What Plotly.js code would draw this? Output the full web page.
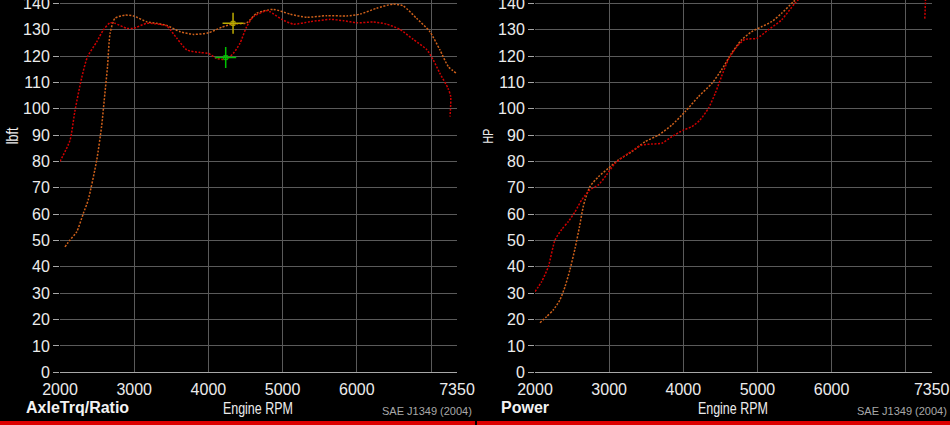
<!DOCTYPE html>
<html>
<head>
<meta charset="utf-8">
<script src="https://cdn.plot.ly/plotly-3.0.1.min.js"></script>
<style>
  html, body { margin: 0; padding: 0; background: #000; }
  #chart { width: 950px; height: 425px; }
</style>
</head>
<body>
<div id="chart"></div>
<script>
// ---- Data ----
const xTickVals = [2000, 3000, 4000, 5000, 6000, 7000, 7350];
const xTickText = ['2000', '3000', '4000', '5000', '6000', '', '7350'];
const yTickVals = [0, 10, 20, 30, 40, 50, 60, 70, 80, 90, 100, 110, 120, 130, 140];

// Axle torque / ratio (lbft) - red run
const trqRedRpm = [2000, 2135, 2200, 2290, 2370, 2495, 2585, 2675, 2740, 2900, 2990, 3170, 3350, 3440, 3575, 3710, 3890, 4000, 4110, 4230, 4335, 4425, 4515, 4605, 4785, 4830, 4990, 5145, 5370, 5640, 5820, 6000, 6220, 6400, 6580, 6760, 6940, 7030, 7120, 7230, 7265, 7256];
const trqRedVal = [80, 88, 99, 111.5, 119.7, 125.4, 129.9, 132.6, 132.4, 130.5, 130.5, 132.4, 132, 131.4, 126.7, 122.3, 121.3, 121, 119.1, 118.7, 121, 124.8, 131.1, 134.9, 137.2, 136.8, 133.9, 132.1, 133, 133.9, 133.4, 132.6, 132.9, 132.1, 130.1, 126.3, 122.5, 118.5, 113.4, 107.7, 104.6, 97];

// Axle torque / ratio (lbft) - orange run
const trqOrgRpm = [2067, 2135, 2225, 2315, 2380, 2495, 2560, 2605, 2640, 2675, 2740, 2875, 2990, 3170, 3300, 3440, 3620, 3800, 4000, 4180, 4320, 4515, 4650, 4875, 5100, 5325, 5595, 5865, 6045, 6265, 6490, 6625, 6805, 6985, 7120, 7235, 7345];
const trqOrgVal = [47.6, 50.2, 53.3, 60.3, 65.4, 80.5, 93.2, 105.8, 115.9, 128.6, 134.3, 135.5, 135.2, 133, 132.4, 131.6, 129.2, 128.2, 128.8, 130.9, 132.1, 132.6, 136.2, 137.7, 135.9, 134.7, 135.3, 135.2, 135.9, 138.1, 139.7, 139, 134.3, 129.2, 122.3, 115.9, 113.4];

// Power (HP) - red run
const hpRedRpm = [2000, 2090, 2180, 2270, 2360, 2450, 2540, 2630, 2740, 2855, 2965, 3080, 3260, 3440, 3575, 3710, 3845, 4000, 4115, 4225, 4340, 4430, 4515, 4605, 4720, 4830, 4990, 5145, 5325, 5505, 5640, 5820, 6000, 6400, 6760, 7030, 7230, 7265, 7256];
const hpRedVal = [30.6, 34.4, 40.1, 50.2, 54.2, 57.2, 60.9, 65.4, 69.2, 71.1, 74.9, 79.3, 83.1, 86.2, 86.6, 86.9, 89.4, 91.9, 93.2, 95.7, 100.2, 105.8, 112.2, 118.5, 123.5, 126.3, 126.7, 129.9, 133.7, 140, 143.8, 147.8, 151.5, 161, 162.5, 158.6, 148.3, 144.7, 134];

// Power (HP) - orange run
const hpOrgRpm = [2067, 2155, 2245, 2335, 2405, 2470, 2540, 2600, 2650, 2675, 2740, 2855, 2990, 3125, 3305, 3485, 3665, 3845, 4025, 4205, 4385, 4515, 4650, 4785, 4920, 5055, 5190, 5325, 5485, 5700, 6000, 6500, 7000, 7345];
const hpOrgVal = [18.8, 21.1, 23.6, 27.4, 32.5, 38.8, 47, 55.3, 62.8, 65.4, 70.4, 74.2, 77.4, 80.6, 83.7, 87.5, 90, 93.8, 98.9, 104.6, 109.6, 114.7, 121, 126.1, 129.2, 131.1, 133, 136.2, 140.6, 146, 155, 172.9, 172, 158.6];

// Cursor markers on the torque chart
const cursorYellowRpm = [4332];
const cursorYellowVal = [132.4];
const cursorGreenRpm = [4233];
const cursorGreenVal = [119.4];

// ---- Styles ----
const RED = '#d00000';
const ORANGE = '#cf601a';
const YELLOW = '#bcaa00';
const GREEN = '#00c000';
const W = 950, H = 425;
const dotLine = (c) => ({color: c, width: 1.5, dash: '2px,1.5px', shape: 'spline', smoothing: 0.6});

function cursor(xs, ys, c) {
  return [
    {x: xs, y: ys, type: 'scatter', mode: 'markers', xaxis: 'x', yaxis: 'y', hoverinfo: 'skip',
     marker: {symbol: 'cross-thin-open', size: 15, color: c, line: {color: c, width: 1.5}}},
    {x: xs, y: ys, type: 'scatter', mode: 'markers', xaxis: 'x', yaxis: 'y', hoverinfo: 'skip',
     marker: {symbol: 'square-open', size: 4, color: c, line: {color: c, width: 1}}}
  ];
}

const traces = [
  {x: trqOrgRpm, y: trqOrgVal, type: 'scatter', mode: 'lines', line: dotLine(ORANGE), xaxis: 'x', yaxis: 'y', hoverinfo: 'skip'},
  {x: trqRedRpm, y: trqRedVal, type: 'scatter', mode: 'lines', line: dotLine(RED), xaxis: 'x', yaxis: 'y', hoverinfo: 'skip'},
  {x: hpOrgRpm, y: hpOrgVal, type: 'scatter', mode: 'lines', line: dotLine(ORANGE), xaxis: 'x2', yaxis: 'y2', hoverinfo: 'skip'},
  {x: hpRedRpm, y: hpRedVal, type: 'scatter', mode: 'lines', line: dotLine(RED), xaxis: 'x2', yaxis: 'y2', hoverinfo: 'skip'}
].concat(cursor(cursorYellowRpm, cursorYellowVal, YELLOW), cursor(cursorGreenRpm, cursorGreenVal, GREEN));

const tickFont = {family: 'Liberation Sans, Arial, sans-serif', size: 16, color: '#ececec'};
const GRID = '#5a5a5a';

function xAxis(domain, anchor) {
  return {
    domain: domain, anchor: anchor, range: [2000, 7350],
    tickmode: 'array', tickvals: xTickVals, ticktext: xTickText,
    showgrid: true, gridcolor: GRID, gridwidth: 1,
    showline: true, linecolor: '#a8a8a8', linewidth: 1,
    ticks: 'outside', ticklen: 2, tickcolor: '#000',
    zeroline: false, tickfont: tickFont, fixedrange: true,
    ticklabeloverflow: 'allow'
  };
}
function yAxis(anchor) {
  return {
    domain: [52.7 / H, 1], anchor: anchor, range: [0, 141.25],
    tickmode: 'array', tickvals: yTickVals,
    showgrid: true, gridcolor: GRID, gridwidth: 1,
    showline: false, zeroline: false,
    ticks: 'outside', ticklen: 6, tickcolor: '#a8a8a8', tickwidth: 1,
    ticklabelstandoff: 0, ticklabeloverflow: 'allow',
    tickfont: tickFont, fixedrange: true
  };
}

const SANS = 'Liberation Sans, Arial, sans-serif';
const ann = (text, px, py, opts) => Object.assign({
  text: text, xref: 'paper', yref: 'paper', x: px / W, y: 1 - py / H,
  showarrow: false, xanchor: 'center', yanchor: 'middle'
}, opts);

const annotations = [
  ann('lbft', 13, 135.5, {textangle: -90, font: {family: SANS, size: 16, color: '#ececec'}}),
  ann('HP', 488, 135.5, {textangle: -90, font: {family: SANS, size: 15, color: '#ececec'}}),
  ann('Engine RPM', 257.5, 408, {font: {family: SANS, size: 16, color: '#ececec'}}),
  ann('Engine RPM', 732.5, 408, {font: {family: SANS, size: 16, color: '#ececec'}}),
  ann('<b>AxleTrq/Ratio</b>', 24, 407.5, {xanchor: 'left', font: {family: SANS, size: 16, color: '#f2f2f2'}}),
  ann('<b>Power</b>', 499, 407.5, {xanchor: 'left', font: {family: SANS, size: 16, color: '#f2f2f2'}}),
  ann('SAE J1349 (2004)', 474, 411, {xanchor: 'right', font: {family: SANS, size: 11, color: '#a8a8a8'}}),
  ann('SAE J1349 (2004)', 949, 411, {xanchor: 'right', font: {family: SANS, size: 11, color: '#a8a8a8'}})
];
// horizontal condensing of the narrow-font labels (index -> scale)
const condense = {0: 0.78, 1: 0.7, 2: 0.78, 3: 0.78};

const shapes = [
  {type: 'rect', xref: 'paper', yref: 'paper', x0: 0, x1: 475 / W, y0: 0, y1: 4 / H, fillcolor: '#dd0000', line: {width: 0}, layer: 'above'},
  {type: 'rect', xref: 'paper', yref: 'paper', x0: 477 / W, x1: 1, y0: 0, y1: 4 / H, fillcolor: '#dd0000', line: {width: 0}, layer: 'above'}
];

const layout = {
  width: W, height: H,
  margin: {l: 0, r: 0, t: 0, b: 0, pad: 0},
  paper_bgcolor: '#000', plot_bgcolor: '#000',
  showlegend: false,
  xaxis: xAxis([60 / W, 457 / W], 'y'),
  yaxis: yAxis('x'),
  xaxis2: xAxis([535 / W, 931.7 / W], 'y2'),
  yaxis2: yAxis('x2'),
  annotations: annotations,
  shapes: shapes
};

Plotly.newPlot('chart', traces, layout, {displayModeBar: false, staticPlot: true}).then(function () {
  Object.keys(condense).forEach(function (i) {
    const t = document.querySelector('g.annotation[data-index="' + i + '"] text.annotation-text');
    if (t) {
      t.style.transformBox = 'fill-box';
      t.style.transformOrigin = 'center';
      t.style.transform = 'scaleX(' + condense[i] + ')';
    }
  });
});
</script>
</body>
</html>
